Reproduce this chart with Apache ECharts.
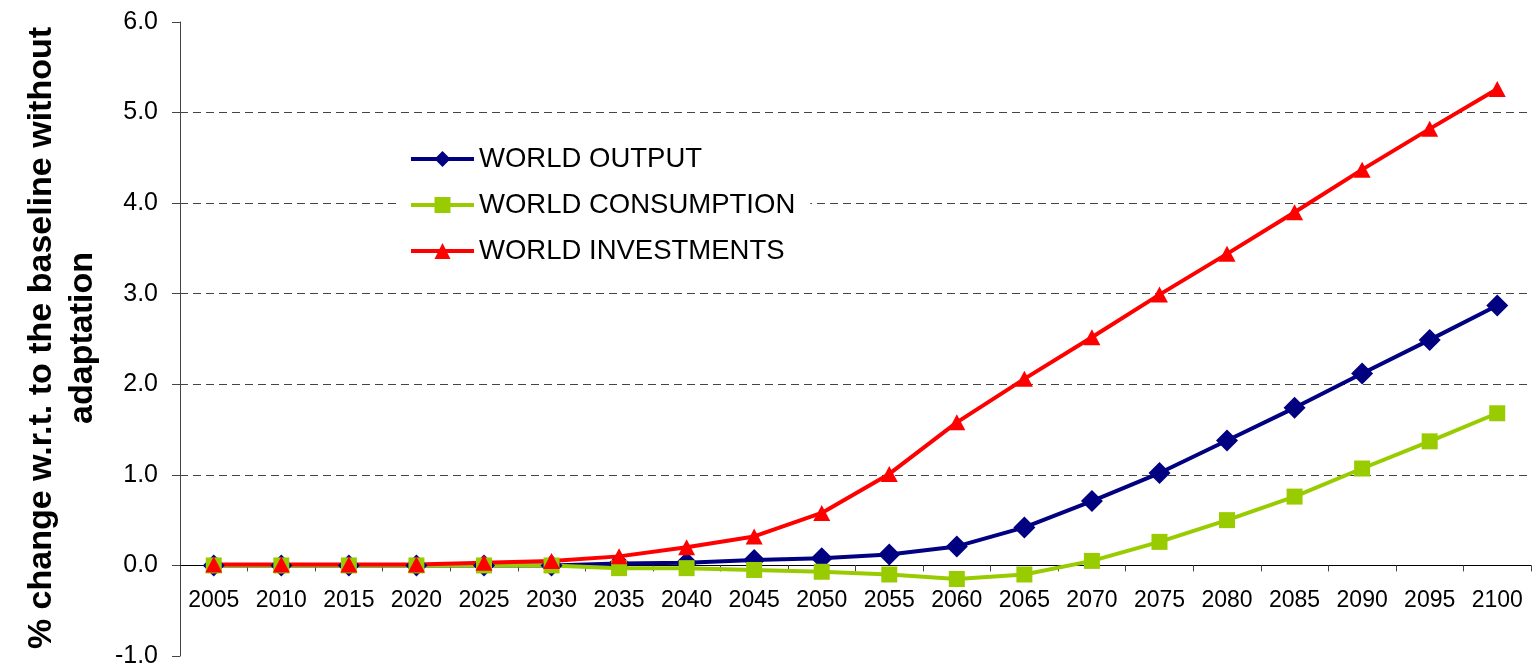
<!DOCTYPE html>
<html>
<head>
<meta charset="utf-8">
<title>World output, consumption and investments</title>
<script src="https://cdn.jsdelivr.net/npm/echarts@6/dist/echarts.min.js"></script>
<style>
  html, body { margin: 0; padding: 0; background: #fff; }
  #chart { width: 1532px; height: 667px; }
</style>
</head>
<body>
<div id="chart"></div>
<script>
// Years on the horizontal axis
const years = ['2005', '2010', '2015', '2020', '2025', '2030', '2035', '2040', '2045', '2050',
               '2055', '2060', '2065', '2070', '2075', '2080', '2085', '2090', '2095', '2100'];

// % change w.r.t. the baseline without adaptation
const worldOutput = [0.00, 0.00, 0.00, 0.00, 0.00, 0.00, 0.02, 0.03, 0.06, 0.08,
                     0.12, 0.21, 0.42, 0.71, 1.02, 1.38, 1.74, 2.12, 2.49, 2.87];
const worldConsumption = [0.00, 0.00, 0.00, 0.00, 0.00, 0.00, -0.03, -0.03, -0.05, -0.07,
                          -0.10, -0.15, -0.10, 0.05, 0.26, 0.50, 0.76, 1.07, 1.37, 1.68];
const worldInvestments = [0.01, 0.01, 0.01, 0.01, 0.03, 0.05, 0.10, 0.20, 0.32, 0.58,
                          1.01, 1.58, 2.06, 2.52, 2.99, 3.44, 3.90, 4.37, 4.82, 5.26];

const seriesNames = ['WORLD OUTPUT', 'WORLD CONSUMPTION', 'WORLD INVESTMENTS'];
const yTitle = '% change w.r.t. to the baseline without\nadaptation';

const FONT = '"Liberation Sans", Arial, sans-serif';

// plot box
const GRID = { left: 180, right: 1, top: 22, bottom: 11 };
const Y_MIN = -1, Y_MAX = 6;
const CHART_H = 667;
// the category axis sits on the zero line: shift it up from the plot's bottom edge
const plotH = CHART_H - GRID.top - GRID.bottom;
const zeroShift = plotH * (0 - Y_MIN) / (Y_MAX - Y_MIN);

const chart = echarts.init(document.getElementById('chart'), null, { renderer: 'canvas' });

// grid lines only at 1..5; -1, 0 and 6 stay clear
const clear = 'rgba(0,0,0,0)';
const gridColors = [clear, clear, '#444', '#444', '#444', '#444', '#444', clear];

chart.setOption({
  animation: false,
  backgroundColor: '#ffffff',
  grid: Object.assign({ outerBoundsMode: 'none', containLabel: false }, GRID),
  legend: {
    orient: 'vertical',
    left: 399,
    top: 138,
    padding: [6, 15, 6, 10],
    backgroundColor: '#ffffff',
    itemWidth: 63,
    itemHeight: 20,
    itemGap: 16,
    lineStyle: { width: 4 },
    textStyle: { fontFamily: FONT, fontSize: 27.5, color: '#000', lineHeight: 30 },
    data: seriesNames
  },
  xAxis: {
    type: 'category',
    data: years,
    boundaryGap: true,
    offset: -zeroShift,
    axisLine: { onZero: false, lineStyle: { color: '#000', width: 1 } },
    axisTick: { show: true, inside: false, length: 6, lineStyle: { color: '#444' } },
    axisLabel: { fontFamily: FONT, fontSize: 23, color: '#000', margin: 24, interval: 0 },
    splitLine: { show: false }
  },
  yAxis: {
    type: 'value',
    min: Y_MIN,
    max: Y_MAX,
    interval: 1,
    axisLine: { show: true, lineStyle: { color: '#444', width: 1 } },
    axisTick: { show: true, length: 8, lineStyle: { color: '#444' } },
    axisLabel: {
      fontFamily: FONT, fontSize: 25, color: '#000', margin: 22,
      formatter: v => v.toFixed(1)
    },
    splitLine: {
      show: true,
      lineStyle: { color: gridColors, type: [8, 5], width: 1 }
    }
  },
  graphic: [{
    type: 'text',
    x: 62,
    y: 338,
    rotation: Math.PI / 2,
    style: {
      text: yTitle,
      font: 'bold 34px ' + FONT,
      fill: '#000',
      align: 'center',
      verticalAlign: 'middle',
      lineHeight: 41
    }
  }],
  series: [
    {
      name: seriesNames[0],
      type: 'line',
      data: worldOutput,
      symbol: 'diamond',
      symbolSize: [22, 22],
      color: '#000080',
      lineStyle: { color: '#000080', width: 4 },
      itemStyle: { color: '#000080' }
    },
    {
      name: seriesNames[1],
      type: 'line',
      data: worldConsumption,
      symbol: 'rect',
      symbolSize: 16,
      color: '#99CC00',
      lineStyle: { color: '#99CC00', width: 4 },
      itemStyle: { color: '#99CC00' }
    },
    {
      name: seriesNames[2],
      type: 'line',
      data: worldInvestments,
      symbol: 'triangle',
      symbolSize: [17, 16],
      color: '#FF0000',
      lineStyle: { color: '#FF0000', width: 4 },
      itemStyle: { color: '#FF0000' }
    }
  ]
});
</script>
</body>
</html>
